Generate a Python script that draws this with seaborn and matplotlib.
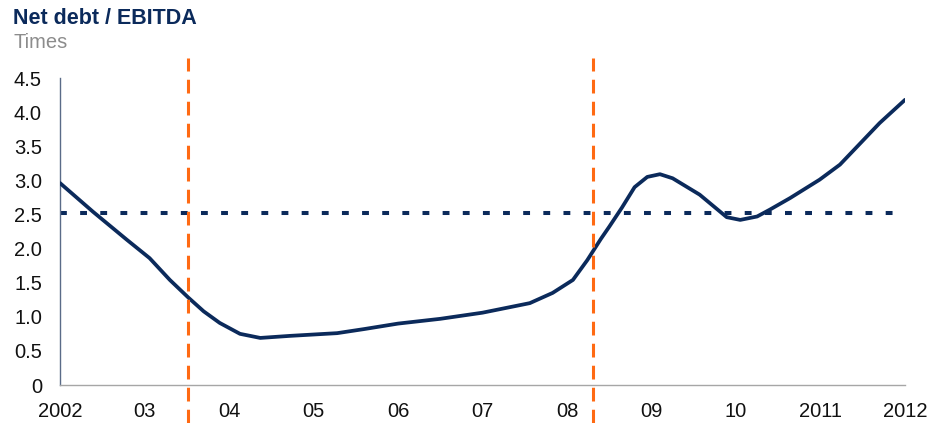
import matplotlib
matplotlib.use("Agg")
import matplotlib.pyplot as plt
import seaborn as sns
import pandas as pd

# Net debt / EBITDA ratio, in times
years = [2002.00, 2002.39, 2002.79, 2003.06, 2003.30, 2003.52, 2003.70, 2003.89,
         2004.13, 2004.37, 2004.72, 2005.28, 2005.60, 2006.00, 2006.50, 2007.00,
         2007.56, 2007.83, 2008.07, 2008.24, 2008.40, 2008.50, 2008.65, 2008.80,
         2008.95, 2009.10, 2009.25, 2009.57, 2009.89, 2010.05, 2010.25, 2010.40,
         2010.64, 2010.99, 2011.23, 2011.70, 2012.00]
ratio = [2.96, 2.54, 2.13, 1.86, 1.54, 1.28, 1.08, 0.91,
         0.75, 0.69, 0.72, 0.76, 0.82, 0.90, 0.97, 1.06,
         1.20, 1.35, 1.54, 1.83, 2.14, 2.32, 2.60, 2.90,
         3.05, 3.09, 3.03, 2.79, 2.46, 2.42, 2.47, 2.57,
         2.74, 3.01, 3.23, 3.84, 4.18]

average_level = 2.52
average_span = [2002.0, 2011.92]
period_marks = [2003.52, 2008.31]

xtick_pos = list(range(2002, 2013))
xtick_labels = ["2002", "03", "04", "05", "06", "07", "08", "09", "10", "2011", "2012"]
ytick_pos = [0, 0.5, 1.0, 1.5, 2.0, 2.5, 3.0, 3.5, 4.0, 4.5]
ytick_labels = ["0", "0.5", "1.0", "1.5", "2.0", "2.5", "3.0", "3.5", "4.0", "4.5"]

navy = "#0b2a5b"
orange = "#ff6a13"

sns.set_theme(style="white")
plt.rcParams["font.family"] = ["Liberation Sans", "DejaVu Sans"]

fig = plt.figure(figsize=(9.39, 4.23), dpi=100)
ax = fig.add_axes([60 / 939, 1 - 385 / 423, 845 / 939, 307 / 423])

df = pd.DataFrame({"year": years, "ratio": ratio})
sns.lineplot(data=df, x="year", y="ratio", ax=ax, color=navy, linewidth=2.7,
             solid_joinstyle="round", solid_capstyle="round", zorder=3)

ax.plot(average_span, [average_level, average_level], color=navy, linewidth=2.9,
        linestyle=(0, (1.7, 3.3)), dash_capstyle="butt", zorder=2)

for xm in period_marks:
    ax.axvline(xm, ymin=-0.124, ymax=1.065, color=orange, linewidth=2.2,
               linestyle=(0, (4.5, 2.7)), clip_on=False, zorder=4)

ax.set_xlim(2002, 2012)
ax.set_ylim(0, 4.5)
ax.set_xticks(xtick_pos)
ax.set_xticklabels(xtick_labels)
ax.set_yticks(ytick_pos)
ax.set_yticklabels(ytick_labels)
ax.set_xlabel("")
ax.set_ylabel("")

for side in ("top", "right"):
    ax.spines[side].set_visible(False)
ax.spines["left"].set_color("#5a6b88")
ax.spines["left"].set_linewidth(1.0)
ax.spines["bottom"].set_color("#a6a6a6")
ax.spines["bottom"].set_linewidth(1.0)

ax.tick_params(axis="x", direction="in", length=5, width=1, color="#a6a6a6",
               pad=12, labelsize=14.5, labelcolor="#111111")
ax.tick_params(axis="y", direction="in", length=5, width=1, color="#5a6b88",
               pad=13, labelsize=14.5, labelcolor="#111111")
ax.grid(False)

fig.text(13 / 939, 1 - 18 / 423, "Net debt / EBITDA", fontsize=15.5, fontweight="bold",
         color=navy, ha="left", va="center")
fig.text(14 / 939, 1 - 43 / 423, "Times", fontsize=14.5, color="#8c8c8c",
         ha="left", va="center")

fig.savefig("out.png", dpi=100, facecolor="white")
